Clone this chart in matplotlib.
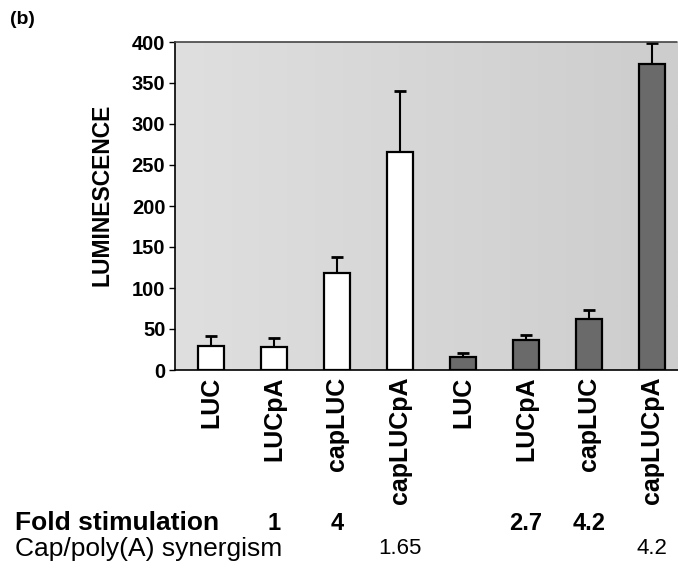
import matplotlib
matplotlib.use("Agg")
import matplotlib.pyplot as plt
import numpy as np

plt.rcParams['font.family'] = ['Liberation Sans', 'DejaVu Sans']

labels = ["LUC", "LUCpA", "capLUC", "capLUCpA", "LUC", "LUCpA", "capLUC", "capLUCpA"]
values = [29, 28, 118, 266, 16, 37, 62, 373]
errors = [12, 11, 20, 74, 5, 6, 11, 26]
bar_colors = ["white"] * 4 + ["#6a6a6a"] * 4

fold_stim = ["", "1", "4", "", "", "2.7", "4.2", ""]
synergism = ["", "", "", "1.65", "", "", "", "4.2"]

W, H = 678, 569
fig = plt.figure(figsize=(W / 100, H / 100), dpi=100)
fig.patch.set_facecolor("white")
ax = fig.add_axes([175 / W, 1 - 370 / H, 1 - 175 / W, (370 - 42) / H])
ax.set_facecolor("#d7d7d7")

# subtle horizontal shading of the plotting area (lighter left, darker right)
grad = np.linspace(0.0, 1.0, 256).reshape(1, -1)
ax.imshow(grad, extent=[0, 1, 0, 1], transform=ax.transAxes, aspect="auto",
          cmap=matplotlib.colors.LinearSegmentedColormap.from_list("bg", ["#dfdfdf", "#cdcdcd"]),
          zorder=0)

x = np.arange(len(values))
ax.bar(x, values, width=0.41, color=bar_colors, edgecolor="black", linewidth=1.6, zorder=3)
ax.errorbar(x, values, yerr=[np.zeros(len(errors)), errors], fmt="none",
            ecolor="black", elinewidth=1.5, capsize=4, capthick=2, zorder=2)

ax.set_xlim(-0.57, 7.41)
ax.set_ylim(0, 400)
ax.set_yticks(np.arange(0, 401, 50))
ax.tick_params(axis="y", direction="out", length=4, width=1, labelsize=14.5, pad=3)
for t in ax.get_yticklabels():
    t.set_fontweight("bold")
ax.set_xticks(x)
ax.set_xticklabels(labels, rotation=90, fontsize=18, fontweight="bold", va="top")
ax.tick_params(axis="x", length=0, pad=5)

ax.spines["right"].set_visible(False)
for s in ["left", "bottom", "top"]:
    ax.spines[s].set_linewidth(1.2)
ax.spines["top"].set_linestyle((0, (1, 1)))
ax.spines["top"].set_color("#444444")

ax.set_ylabel("LUMINESCENCE", fontsize=16.5, fontweight="bold")
ax.yaxis.set_label_coords(-0.123, 0.535)

fig.text(10 / W, 1 - 19 / H, "(b)", fontsize=14, fontweight="bold", ha="left", va="center")

y1 = 1 - 523 / H
y2 = 1 - 549 / H
fig.text(15 / W, y1, "Fold stimulation", fontsize=19, fontweight="bold", ha="left", va="center")
fig.text(15 / W, y2, "Cap/poly(A) synergism", fontsize=19, ha="left", va="center")
for i, (a, b) in enumerate(zip(fold_stim, synergism)):
    xf = ax.transData.transform((x[i], 0))[0] / W
    if a:
        fig.text(xf, y1, a, fontsize=17, fontweight="bold", ha="center", va="center")
    if b:
        fig.text(xf, y2, b, fontsize=16, ha="center", va="center")

fig.savefig("out.png", dpi=100)
